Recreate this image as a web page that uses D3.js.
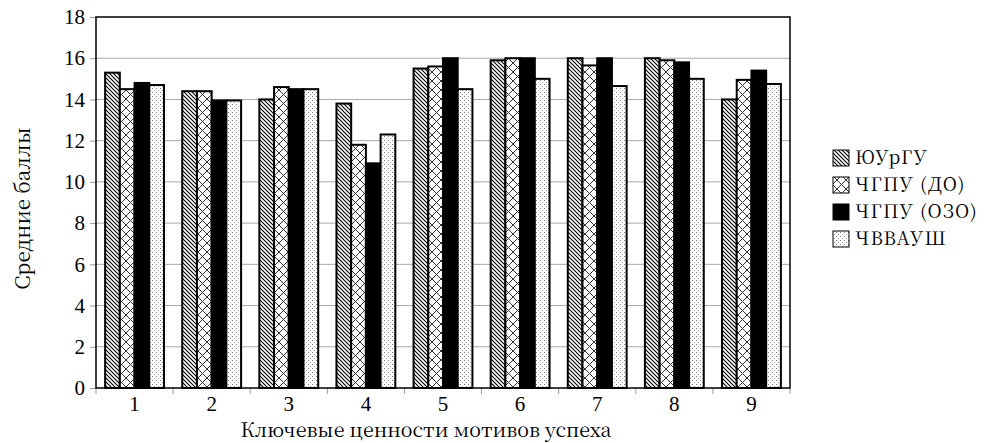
<!DOCTYPE html>
<html><head><meta charset="utf-8">
<script src="https://cdn.jsdelivr.net/npm/d3@7"></script>
<style>body{margin:0;background:#fff}svg{display:block}
svg text{font-family:"Liberation Serif","Times New Roman",serif;}
svg text.cyr{font-family:"Noto Serif CJK SC","Noto Serif CJK JP",serif;}</style>
</head><body>
<svg id="c" width="991" height="443"></svg>
<script>
const categories = ["1","2","3","4","5","6","7","8","9"];
const seriesNames = ["ЮУрГУ","ЧГПУ (ДО)","ЧГПУ (ОЗО)","ЧВВАУШ"];
const yuurgu = [15.3,14.4,14.0,13.8,15.5,15.9,16.0,16.0,14.0];
const chgpuDO = [14.5,14.4,14.6,11.8,15.6,16.0,15.65,15.9,14.95];
const chgpuOZO = [14.8,13.95,14.5,10.9,16.0,16.0,16.0,15.8,15.4];
const chvvaush = [14.7,13.95,14.5,12.3,14.5,15.0,14.65,15.0,14.75];
const yTicks = [0,2,4,6,8,10,12,14,16,18];
const seriesValues = [yuurgu, chgpuDO, chgpuOZO, chvvaush];

const svg = d3.select("#c");
const m = {l:96, t:17, r:790, b:388};

const defs = svg.append("defs");
const p1 = defs.append("pattern").attr("id","pDiag").attr("patternUnits","userSpaceOnUse").attr("width",4).attr("height",4);
p1.append("rect").attr("width",4).attr("height",4).attr("fill","#fff");
p1.append("path").attr("d","M-1,-1 L5,5 M-1,3 L1,5 M3,-1 L5,1").attr("stroke","#000").attr("stroke-width",1.1);
const p2 = defs.append("pattern").attr("id","pCross").attr("patternUnits","userSpaceOnUse").attr("width",9).attr("height",9);
p2.append("rect").attr("width",9).attr("height",9).attr("fill","#fff");
p2.append("path").attr("d","M0,0 L9,9 M9,0 L0,9").attr("stroke","#333").attr("stroke-width",1);
const p3 = defs.append("pattern").attr("id","pDots").attr("patternUnits","userSpaceOnUse").attr("width",4).attr("height",4);
p3.append("rect").attr("width",4).attr("height",4).attr("fill","#fff");
p3.append("rect").attr("x",0).attr("y",0).attr("width",1).attr("height",1).attr("fill","#777");
p3.append("rect").attr("x",2).attr("y",2).attr("width",1).attr("height",1).attr("fill","#999");
const fills = ["url(#pDiag)","url(#pCross)","#000","url(#pDots)"];

const x0 = d3.scaleBand().domain(categories).range([m.l,m.r]).paddingInner(0).paddingOuter(0);
const x1 = d3.scaleBand().domain(d3.range(4)).range([0,x0.bandwidth()]).paddingInner(0).paddingOuter(0.62);
const y = d3.scaleLinear().domain([0,18]).range([m.b,m.t]);

// gridlines
svg.append("g").selectAll("line").data(yTicks.filter(t=>t>0&&t<18)).join("line")
  .attr("x1",m.l).attr("x2",m.r).attr("y1",d=>y(d)).attr("y2",d=>y(d))
  .attr("stroke","#a8a8a8").attr("stroke-width",1);

// y axis
const ya = svg.append("g").attr("transform",`translate(${m.l},0)`)
  .call(d3.axisLeft(y).tickValues(yTicks).tickSize(6).tickPadding(5));
ya.attr("font-family",null);
ya.select(".domain").remove();
ya.selectAll("line").attr("stroke","#999");
ya.selectAll("text").attr("font-size",21).attr("fill","#000");

// x axis ticks at boundaries
const bounds = categories.map(c=>x0(c)).concat([m.r]);
svg.append("g").selectAll("line").data(bounds).join("line")
  .attr("x1",d=>d).attr("x2",d=>d).attr("y1",m.b).attr("y2",m.b+6).attr("stroke","#999");
const xa = svg.append("g").attr("transform",`translate(0,${m.b})`)
  .call(d3.axisBottom(x0).tickSize(0).tickPadding(7));
xa.attr("font-family",null);
xa.select(".domain").remove();
xa.selectAll("text").attr("font-size",21).attr("fill","#000").attr("dy","0.75em");

// bars
const g = svg.append("g");
categories.forEach((c,i)=>{
  seriesValues.forEach((vals,s)=>{
    g.append("rect")
      .attr("x",x0(c)+x1(s)).attr("y",y(vals[i]))
      .attr("width",x1.bandwidth()).attr("height",m.b-y(vals[i]))
      .attr("fill",fills[s]).attr("stroke","#000").attr("stroke-width",2);
  });
});

// frame
svg.append("rect").attr("x",m.l).attr("y",m.t).attr("width",m.r-m.l).attr("height",m.b-m.t)
  .attr("fill","none").attr("stroke","#000").attr("stroke-width",1.5);

// axis titles
svg.append("text").attr("class","cyr").attr("transform",`translate(23,${(m.t+m.b)/2+6}) rotate(-90)`)
  .attr("text-anchor","middle").attr("dy","0.35em").attr("font-size",20.6).text("Средние баллы");
svg.append("text").attr("class","cyr").attr("x",(m.l+m.r)/2-17).attr("y",437)
  .attr("text-anchor","middle").attr("font-size",19.7).text("Ключевые ценности мотивов успеха");

// legend
const leg = svg.append("g");
seriesNames.forEach((n,i)=>{
  const yy = 158 + i*27;
  leg.append("rect").attr("x",833).attr("y",yy-8).attr("width",16).attr("height",16)
    .attr("fill",fills[i]).attr("stroke","#000").attr("stroke-width",1);
  leg.append("text").attr("class","cyr").attr("x",855).attr("y",yy).attr("dy","0.35em")
    .attr("font-size",18.5).attr("letter-spacing",1.2).text(n);
});
</script>
</body></html>
